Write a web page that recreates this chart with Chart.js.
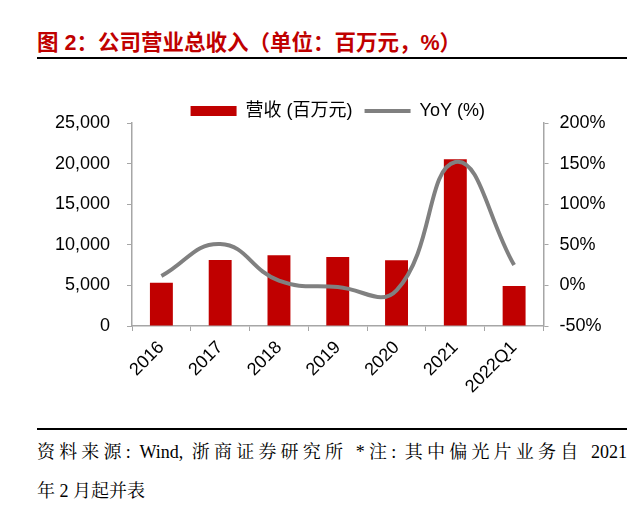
<!DOCTYPE html>
<html>
<head>
<meta charset="utf-8">
<script src="https://cdn.jsdelivr.net/npm/chart.js@4"></script>
<style>
  body { margin: 0; width: 640px; height: 505px; background: #fff; position: relative; overflow: hidden; }
  .title { position: absolute; left: 37px; top: 25px; font-family: 'Liberation Sans', 'Noto Sans CJK SC', sans-serif; font-weight: bold; font-size: 21.5px; color: #C00000; white-space: nowrap; }
  .rule { position: absolute; left: 37px; width: 590px; height: 2px; background: #000; }
  #box { position: absolute; left: 0; top: 90px; width: 640px; height: 330px; }
  .note { position: absolute; left: 37px; width: 590px; font-family: 'Liberation Serif', 'Noto Serif CJK SC', 'Noto Sans CJK SC', serif; font-size: 18px; color: #000; white-space: nowrap; }
  .j { text-align: justify; text-align-last: justify; }
</style>
</head>
<body>
<div class="title">图 2：公司营业总收入（单位：百万元，%）</div>
<div class="rule" style="top:57px"></div>
<div id="box"><canvas id="myChart"></canvas></div>
<div class="rule" style="top:428px"></div>
<div class="note j" style="top:437px">资料来源: Wind, 浙商证券研究所 *注: 其中偏光片业务自 2021</div>
<div class="note" style="top:476px">年&nbsp;2&nbsp;月起并表</div>
<script>
const categories = ['2016', '2017', '2018', '2019', '2020', '2021', '2022Q1'];
const revenue = [5330, 8130, 8700, 8500, 8090, 20530, 4930];
const yoy = [11.5, 51, 6, -2, -6, 152, 25];
const revTicks = [0, 25000, 5000];
const yoyTicks = [-50, 200, 50];

const red = '#C00000';
const grey = '#808080';
const axisGrey = '#A6A6A6';

Chart.defaults.font.family = "'Liberation Sans', 'Noto Sans CJK SC', sans-serif";
Chart.defaults.font.size = 18;
Chart.defaults.color = '#000';

// legend box height fixed so the plot top lands where it should
const legendHeight = {
    id: 'legendHeight',
    beforeInit(chart) {
        const fit = chart.legend.fit;
        chart.legend.fit = function () {
            fit.bind(chart.legend)();
            this.height = 33;
        };
    }
};

const ctx = document.getElementById('myChart');
new Chart(ctx, {
    type: 'bar',
    data: {
        labels: categories,
        datasets: [{
            label: '营收 (百万元)',
            data: revenue,
            backgroundColor: red,
            yAxisID: 'y',
            order: 2,
            categoryPercentage: 1,
            barPercentage: 0.39
        }, {
            type: 'line',
            label: 'YoY (%)',
            data: yoy,
            borderColor: grey,
            borderWidth: 4,
            pointRadius: 0,
            tension: 0.45,
            yAxisID: 'y1',
            order: 1
        }]
    },
    plugins: [legendHeight],
    options: {
        responsive: true,
        maintainAspectRatio: false,
        animation: false,
        layout: { padding: 0 },
        plugins: {
            tooltip: { enabled: false },
            legend: {
                position: 'top',
                fullSize: false,
                labels: {
                    usePointStyle: true,
                    pointStyleWidth: 46,
                    boxHeight: 10,
                    padding: 12,
                    font: { size: 18 },
                    generateLabels: () => [
                        { text: '营收 (百万元)', pointStyle: 'rect', fillStyle: red, strokeStyle: red, lineWidth: 0, datasetIndex: 0 },
                        { text: 'YoY (%)', pointStyle: 'line', fillStyle: grey, strokeStyle: grey, lineWidth: 4, datasetIndex: 1 }
                    ]
                }
            }
        },
        scales: {
            x: {
                grid: { display: true, drawOnChartArea: false, drawTicks: true, tickLength: 5, color: axisGrey, offset: true },
                border: { color: axisGrey, width: 1.5 },
                ticks: { maxRotation: 45, minRotation: 45, padding: 6 },
                afterFit(scale) { scale.height = 94; }
            },
            y: {
                position: 'left',
                min: revTicks[0],
                max: revTicks[1],
                ticks: {
                    stepSize: revTicks[2],
                    padding: 17,
                    callback: v => v.toLocaleString('en-US')
                },
                grid: { display: true, drawOnChartArea: false, drawTicks: true, tickLength: 5, color: axisGrey },
                border: { color: axisGrey, width: 1.5 },
                afterFit(scale) { scale.width = 132; }
            },
            y1: {
                position: 'right',
                min: yoyTicks[0],
                max: yoyTicks[1],
                ticks: {
                    stepSize: yoyTicks[2],
                    padding: 11,
                    callback: v => v + '%'
                },
                grid: { display: true, drawOnChartArea: false, drawTicks: true, tickLength: 5, color: axisGrey },
                border: { color: axisGrey, width: 1.5 },
                afterFit(scale) { scale.width = 96.5; }
            }
        }
    }
});
</script>
</body>
</html>
